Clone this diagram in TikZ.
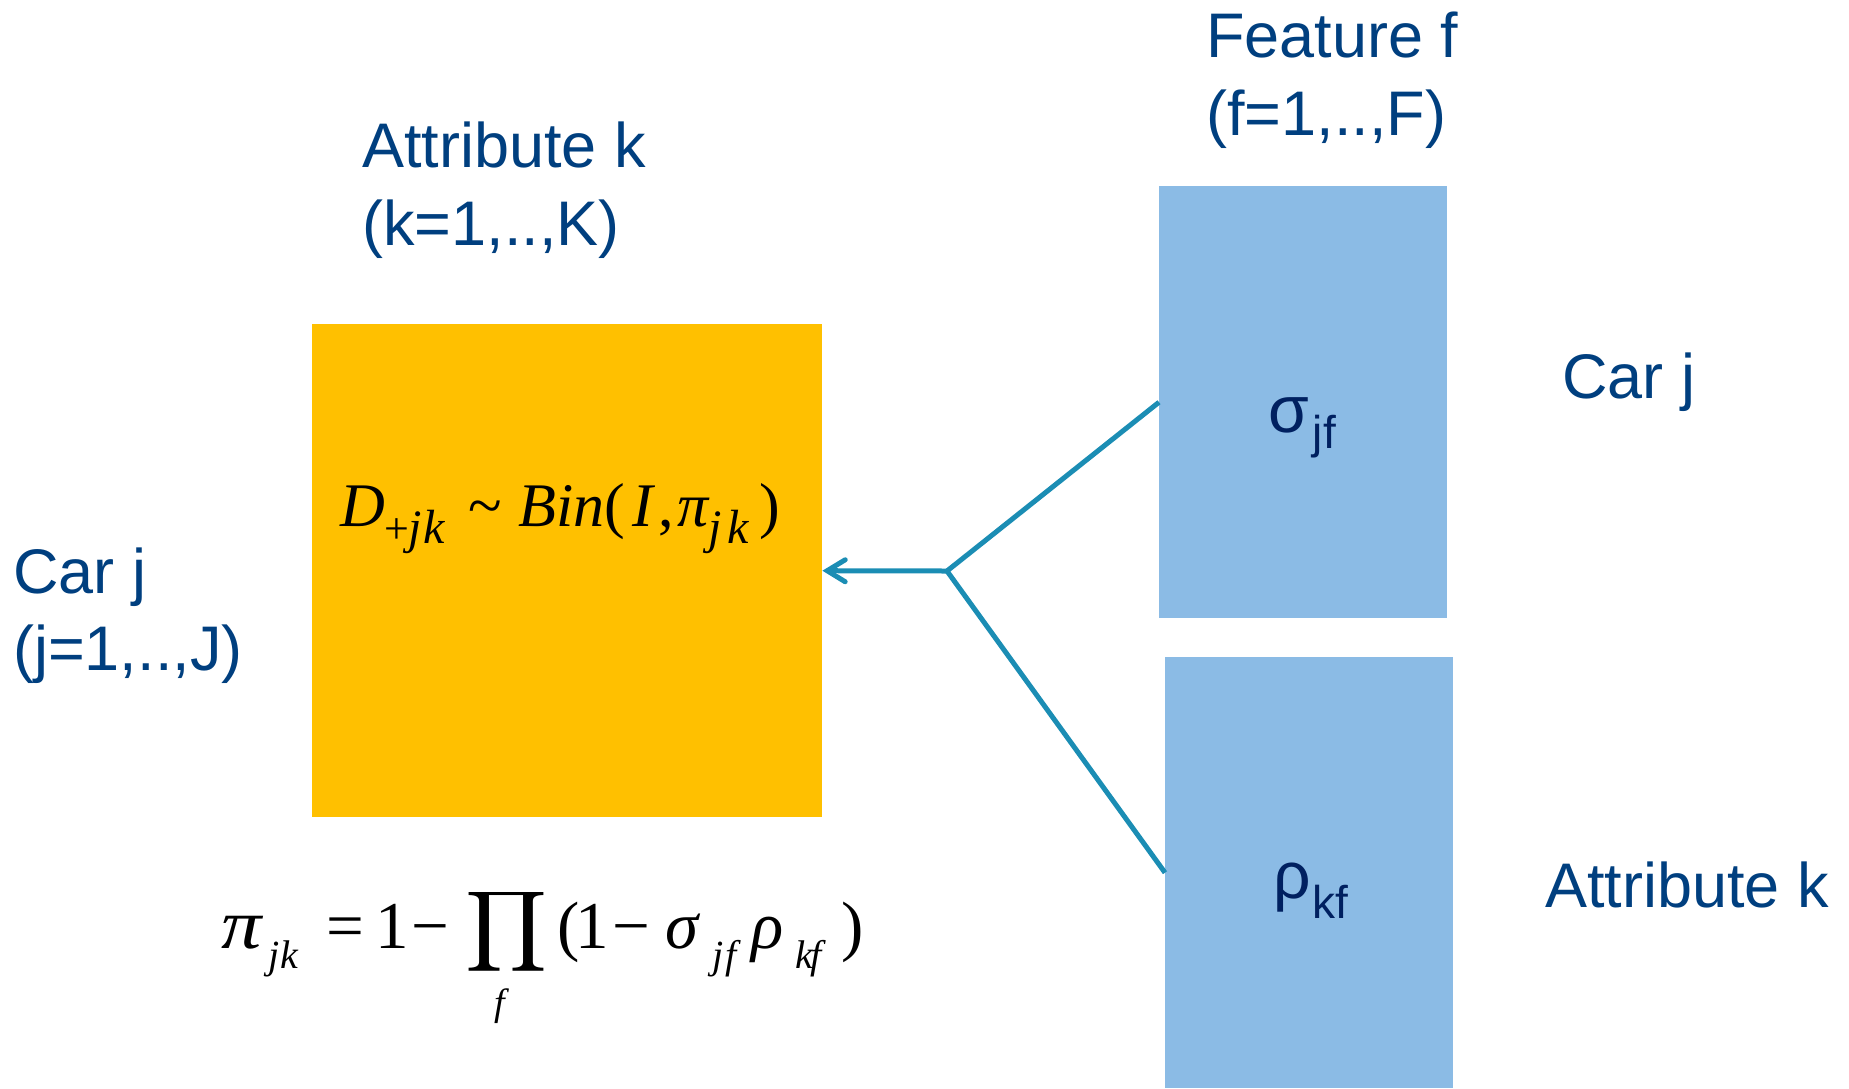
\documentclass[tikz,border=0pt]{standalone}
\usepackage{graphicx}
\usepackage{fontspec}
\setmainfont{Liberation Sans}
\newfontfamily\tms{Liberation Serif}
\usetikzlibrary{arrows.meta}
\definecolor{orng}{RGB}{255,192,0}
\definecolor{lblue}{RGB}{139,187,229}
\definecolor{connteal}{RGB}{27,141,180}
\definecolor{lblblue}{RGB}{0,63,127}
\definecolor{navy}{RGB}{0,32,96}
\newcommand\fa[2]{\rlap{\hspace*{#1pt}#2}}
\newcommand\fsb[3]{\raisebox{-#1pt}{\fontsize{#2}{#2}\selectfont #3}}
\begin{document}
\begin{tikzpicture}[x=1pt,y=-1pt,
  lbl/.style={anchor=base west,inner sep=0pt,text=lblblue,font=\fontsize{63}{76}\selectfont},
  greek/.style={anchor=base west,inner sep=0pt,text=navy,font=\fontsize{66}{76}\selectfont},
  orangebox/.style={fill=orng,draw=none,inner sep=0pt,anchor=north west},
  bluebox/.style={fill=lblue,draw=none,inner sep=0pt,anchor=north west},
  conn/.style={draw=connteal,line width=5pt,line join=round},
  fml/.style={anchor=base west,inner sep=0pt,font=\tms\fontsize{62}{72}\selectfont},
  fmlb/.style={anchor=base west,inner sep=0pt,font=\tms\fontsize{67}{80}\selectfont}]
\useasboundingbox (0,0) rectangle (1849,1088);
% boxes
\node[orangebox,minimum width=510pt,minimum height=493pt] (D) at (312,324) {};
\node[bluebox,minimum width=288pt,minimum height=432pt] (S) at (1159,186) {};
\node[bluebox,minimum width=288pt,minimum height=431pt] (R) at (1165,657) {};
% connectors
\coordinate (j) at (947,571);
\draw[conn] (S.west) -- (j) -- (R.west);
\draw[conn,-{Straight Barb[length=18pt,width=22pt,line cap=round]}] (j) -- (D.east);
% labels
\node[lbl] (ak1) at (362,167) {Attribute k};
\node[lbl] (ak2) at (362,245) {(k=1,..,K)};
\node[lbl] (ff1) at (1206,57) {Feature f};
\node[lbl] (ff2) at (1206,135) {(f=1,..,F)};
\node[lbl] (cj1) at (13,593) {Car j};
\node[lbl] (cj2) at (13,670) {(j=1,..,J)};
\node[lbl] (cjr) at (1562,398) {Car j};
\node[lbl] (akr) at (1545,907) {Attribute k};
% greek labels
\node[greek] (sig) at (1268,432) {σ\kern4pt\fsb{16}{46}{jf}};
\node[greek] (rho) at (1273,898) {ρ\kern2pt\fsb{20}{46}{kf}};
% formula 1
\node[fml] (f1) at (340,526) {\itshape
 \fa{0}{D}%
 \fa{44}{\fsb{17}{44}{\upshape +}}%
 \fa{68}{\fsb{17}{48}{j}}%
 \fa{83}{\fsb{17}{48}{k}}%
 \fa{128}{\upshape\char"7E}%
 \fa{178}{Bin}%
 \fa{264}{\upshape(}%
 \fa{292}{I}%
 \fa{318}{\upshape,}%
 \fa{337}{π}%
 \fa{368}{\fsb{17}{48}{j}}%
 \fa{387}{\fsb{17}{48}{k}}%
 \fa{419}{\upshape)}%
 \hspace*{440pt}};
% formula 2
\node[fmlb] (f2) at (218,948) {\itshape
 \fa{3}{\scalebox{1.2}[1.05]{π}}%
 \fa{50}{\fsb{20}{40}{j}}%
 \fa{62}{\fsb{20}{40}{k}}%
 \fa{108}{\upshape =}%
 \fa{157}{\upshape 1}%
 \fa{193}{\upshape −}%
 \fa{247}{\raisebox{-29pt}{\resizebox*{82pt}{90pt}{\raisebox{\depth}{$\displaystyle\prod$}}}}%
 \fa{276}{\fsb{67}{38}{f}}%
 \fa{339}{\upshape (}%
 \fa{357}{\upshape 1}%
 \fa{394}{\upshape −}%
 \fa{447}{σ}%
 \fa{494}{\fsb{20}{40}{j}}%
 \fa{507}{\fsb{20}{40}{f}}%
 \fa{533}{ρ}%
 \fa{577}{\fsb{20}{40}{k}}%
 \fa{592}{\fsb{20}{40}{f}}%
 \fa{623}{\upshape )}%
 \hspace*{645pt}};
\end{tikzpicture}
\end{document}
